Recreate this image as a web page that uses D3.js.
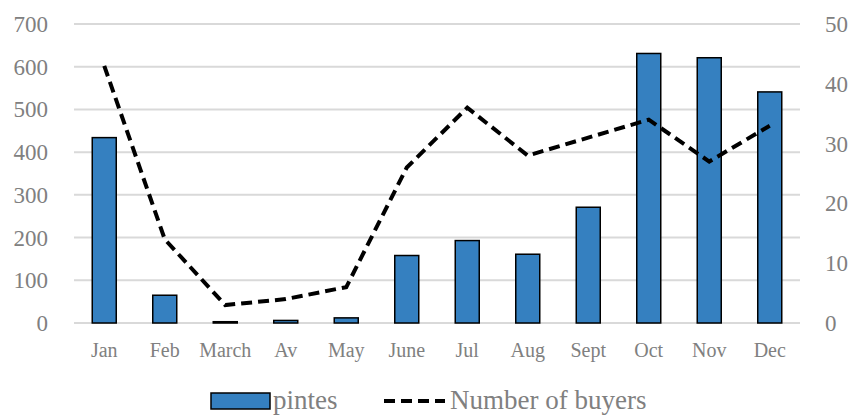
<!DOCTYPE html>
<html>
<head>
<meta charset="utf-8">
<script src="https://cdn.jsdelivr.net/npm/d3@7"></script>
<style>
	body { margin: 0; background: #fff; }
	text { font-family: "Liberation Serif", "DejaVu Serif", serif; fill: #808080; }
</style>
</head>
<body>
<script>
const months = ["Jan", "Feb", "March", "Av", "May", "June", "Jul", "Aug", "Sept", "Oct", "Nov", "Dec"];
const pintes = [434, 65, 3, 6, 12, 158, 193, 161, 271, 631, 621, 541];
const buyers = [43, 14, 3, 4, 6, 26, 36, 28, 31, 34, 27, 33];
const leftTicks = [0, 100, 200, 300, 400, 500, 600, 700];
const rightTicks = [0, 10, 20, 30, 40, 50];

const width = 855;
const height = 416;
const margin = {top: 24, right: 55, bottom: 93, left: 74};

const svg = d3.select("body")
	.append("svg")
	.attr("width", width)
	.attr("height", height);

const x = d3.scaleBand()
	.domain(months)
	.range([margin.left, width - margin.right]);

const yLeft = d3.scaleLinear()
	.domain([0, 700])
	.range([height - margin.bottom, margin.top]);

const yRight = d3.scaleLinear()
	.domain([0, 50])
	.range([height - margin.bottom, margin.top]);

//gridlines
svg.append("g")
	.selectAll("line")
	.data(leftTicks)
	.enter()
	.append("line")
	.attr("x1", margin.left)
	.attr("x2", width - margin.right)
	.attr("y1", d => yLeft(d))
	.attr("y2", d => yLeft(d))
	.attr("stroke", "#d9d9d9")
	.attr("stroke-width", 2);

//left axis labels
svg.append("g")
	.selectAll("text")
	.data(leftTicks)
	.enter()
	.append("text")
	.attr("x", 48)
	.attr("y", d => yLeft(d))
	.attr("dy", "0.35em")
	.attr("text-anchor", "end")
	.style("font-size", "23px")
	.text(d => d);

//right axis labels
svg.append("g")
	.selectAll("text")
	.data(rightTicks)
	.enter()
	.append("text")
	.attr("x", 825)
	.attr("y", d => yRight(d))
	.attr("dy", "0.35em")
	.attr("text-anchor", "start")
	.style("font-size", "23px")
	.text(d => d);

//category labels
svg.append("g")
	.selectAll("text")
	.data(months)
	.enter()
	.append("text")
	.attr("x", d => x(d) + x.bandwidth() / 2)
	.attr("y", 357)
	.attr("text-anchor", "middle")
	.style("font-size", "20px")
	.text(d => d);

//bars
const barWidth = 24;
svg.append("g")
	.selectAll("rect")
	.data(pintes)
	.enter()
	.append("rect")
	.attr("x", (d, i) => x(months[i]) + x.bandwidth() / 2 - barWidth / 2)
	.attr("y", d => yLeft(d))
	.attr("width", barWidth)
	.attr("height", d => yLeft(0) - yLeft(d))
	.attr("fill", "#3580c0")
	.attr("stroke", "#000")
	.attr("stroke-width", 1.5);

//buyers line
const line = d3.line()
	.x((d, i) => x(months[i]) + x.bandwidth() / 2)
	.y(d => yRight(d));

svg.append("path")
	.datum(buyers)
	.attr("d", line)
	.attr("fill", "none")
	.attr("stroke", "#000")
	.attr("stroke-width", 4)
	.attr("stroke-dasharray", "11,6");

//legend
const legend = svg.append("g");
legend.append("rect")
	.attr("x", 211)
	.attr("y", 393)
	.attr("width", 59)
	.attr("height", 16)
	.attr("fill", "#3580c0")
	.attr("stroke", "#000")
	.attr("stroke-width", 1.5);
legend.append("text")
	.attr("x", 273)
	.attr("y", 409)
	.style("font-size", "27px")
	.text("pintes");
legend.append("line")
	.attr("x1", 384)
	.attr("x2", 445)
	.attr("y1", 401)
	.attr("y2", 401)
	.attr("stroke", "#000")
	.attr("stroke-width", 4)
	.attr("stroke-dasharray", "11,6");
legend.append("text")
	.attr("x", 450)
	.attr("y", 409)
	.style("font-size", "27px")
	.text("Number of buyers");
</script>
</body>
</html>
